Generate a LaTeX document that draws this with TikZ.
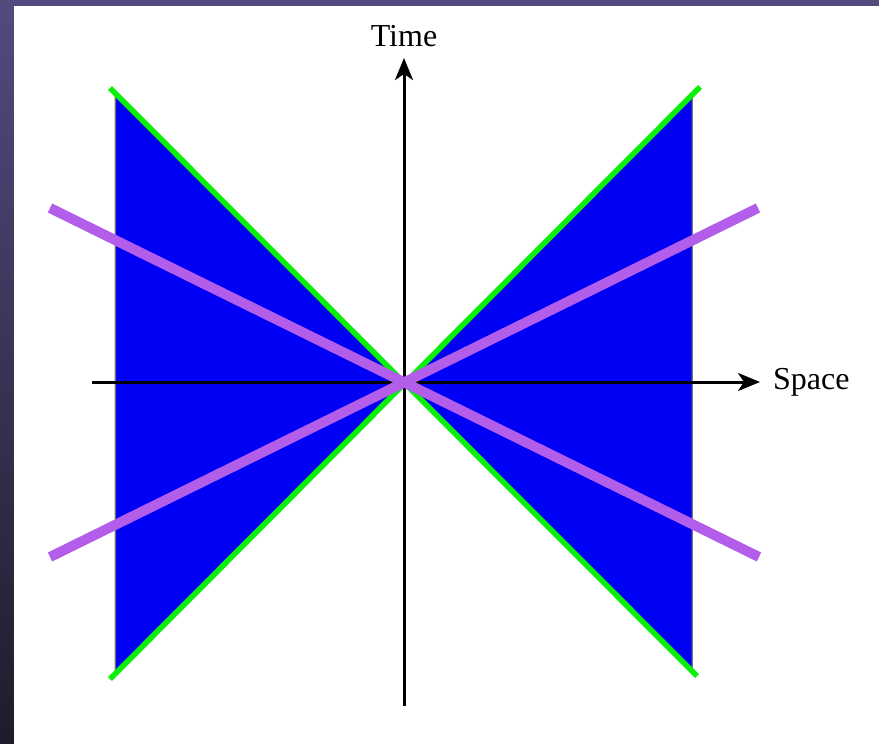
\documentclass[tikz,border=0pt]{standalone}
\usepackage{fontspec}
\setmainfont{Liberation Serif}
\usetikzlibrary{arrows.meta}
\definecolor{frameTop}{RGB}{82,75,128}
\definecolor{frameBot}{RGB}{30,28,42}
\definecolor{coneBlue}{RGB}{0,0,245}
\definecolor{coneGreen}{RGB}{10,240,10}
\definecolor{worldPurple}{RGB}{178,94,234}
\tikzset{
  axisline/.style={line width=3pt,-{Stealth[length=22pt,width=18pt,inset=6pt]}},
  conefill/.style={fill=coneBlue,draw=black!55,line width=1pt},
  coneedge/.style={draw=coneGreen,line width=5.5pt},
  worldline/.style={draw=worldPurple,line width=10pt},
  axislabel/.style={font=\fontsize{32}{36}\selectfont,inner sep=0pt}
}
\begin{document}
\begin{tikzpicture}[x=1pt,y=-1pt]
\useasboundingbox (0,0) rectangle (879,744);
\shade[top color=frameTop,bottom color=frameBot] (0,0) rectangle (879,744);
\fill[white] (14,6) rectangle (879,744);
\coordinate (O) at (404,382);
\coordinate (LT) at (115,93);
\coordinate (LB) at (115,671);
\coordinate (RT) at (692,94);
\coordinate (RB) at (692,670);
\fill[conefill] (LT) -- (O) -- (LB) -- cycle;
\fill[conefill] (RT) -- (O) -- (RB) -- cycle;
\draw[conefill,fill=none] (LT) -- (LB);
\draw[conefill,fill=none] (RT) -- (RB);
\coordinate (gA) at (110,88);
\coordinate (gB) at (697,676);
\coordinate (gC) at (110,679);
\coordinate (gD) at (700,87);
\draw[coneedge] (gA) -- (gB);
\draw[coneedge] (gC) -- (gD);
\coordinate (xs) at (92,382);
\coordinate (xe) at (760,382);
\coordinate (ts) at (404,706);
\coordinate (te) at (404,58);
\draw[axisline] (xs) -- (xe);
\draw[axisline] (ts) -- (te);
\coordinate (pA) at (50,208);
\coordinate (pB) at (759,557);
\coordinate (pC) at (50,557);
\coordinate (pD) at (758,208);
\draw[worldline] (pA) -- (pB);
\draw[worldline] (pC) -- (pD);
\node[axislabel] (time) at (404,36) {Time};
\node[axislabel,anchor=west] (space) at (773,382) {Space};
\end{tikzpicture}
\end{document}
